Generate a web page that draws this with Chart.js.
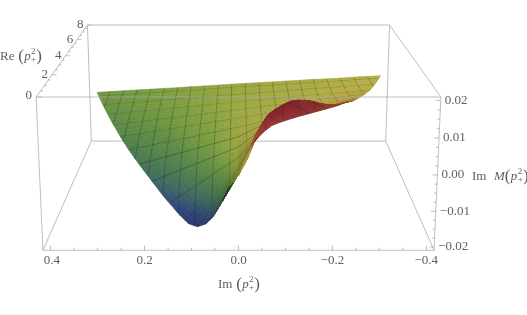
<!DOCTYPE html>
<html><head><meta charset="utf-8">
<style>html,body{margin:0;padding:0;background:#fff}canvas{display:block}</style>
<script src="https://cdn.jsdelivr.net/npm/chart.js@4"></script></head>
<body><canvas id="c" width="527" height="315"></canvas>
<script>
const imTicks=[0.4,0.2,0,-0.2,-0.4];
const imTickLabels=["0.4","0.2","0.0","\u22120.2","\u22120.4"];
const imMinor=[0.35,0.3,0.25,0.15,0.1,0.05,-0.05,-0.1,-0.15,-0.25,-0.3,-0.35];
const reTicks=[0,2,4,6,8];
const reTickLabels=["0","2","4","6","8"];
const reMinor=[0.5,1,1.5,2.5,3,3.5,4.5,5,5.5,6.5,7,7.5];
const zTicks=[0.02,0.01,0,-0.01,-0.02];
const zTickLabels=["0.02","0.01","0.00","\u22120.01","\u22120.02"];
const zMinor=[0.0175,0.015,0.0125,0.0075,0.005,0.0025,-0.0025,-0.005,-0.0075,-0.0125,-0.015,-0.0175];
const imMesh=[0.3591,0.3213,0.2835,0.2457,0.2079,0.1701,0.1323,0.0945,0.0567,0.0189,-0.0189,-0.0567,-0.0945,-0.1323,-0.1701,-0.2079,-0.2457,-0.2835,-0.3213,-0.3591];
const reMesh=[7.6,6.8,6,5.2,4.4,3.6,2.8,2,1.2,0.4];
// surface: Re rows; columns are the fraction of the allowed Im width at that Re (+1 left rim, -1 right rim)
const surfaceRe=[0,0.02,0.06,0.15,0.25,0.4,0.6,0.85,1.1,1.4,1.75,2.2,2.7,3.3,4,5,6,7,8];
const surfaceT=[1,0.75,0.5,0.25,0,-0.25,-0.5,-0.7,-0.85,-1];
const surfaceM=[
[0,0,0,0,0,0,0,0,0,0],
[-.0032,-.0024,-.0016,-.0008,0,.0012,.0024,.0033,.0040,.0046],
[-.0075,-.0056,-.0038,-.0019,0,.0023,.0046,.0065,.0078,.0092],
[-.0122,-.0092,-.0061,-.0031,0,.0038,.0076,.0107,.0115,.0113],
[-.0147,-.0110,-.0074,-.0037,0,.0046,.0091,.0128,.0130,.0125],
[-.0162,-.0122,-.0081,-.0041,0,.0053,.0106,.0148,.0134,.0129],
[-.0163,-.0122,-.0082,-.0041,0,.0055,.0111,.0155,.0140,.0130],
[-.0150,-.0112,-.0075,-.0037,0,.0056,.0112,.0157,.0143,.0129],
[-.0136,-.0102,-.0068,-.0034,0,.0056,.0112,.0157,.0143,.0126],
[-.0124,-.0093,-.0062,-.0031,0,.0055,.0109,.0153,.0141,.0122],
[-.0110,-.0083,-.0055,-.0028,0,.0051,.0103,.0144,.0142,.0116],
[-.0096,-.0072,-.0048,-.0024,0,.0046,.0092,.0129,.0123,.0108],
[-.0085,-.0064,-.0043,-.0021,0,.0040,.0080,.0112,.0101,.0098],
[-.0075,-.0056,-.0038,-.0019,0,.0022,.0044,.0062,.0075,.0088],
[-.0065,-.0049,-.0033,-.0016,0,.0018,.0035,.0049,.0060,.0070],
[-.0052,-.0039,-.0026,-.0013,0,.0014,.0027,.0038,.0046,.0054],
[-.0043,-.0032,-.0022,-.0011,0,.0010,.0020,.0027,.0033,.0039],
[-.0036,-.0027,-.0018,-.0009,0,.0008,.0017,.0023,.0028,.0033],
[-.0031,-.0023,-.0016,-.0008,0,.0007,.0015,.0020,.0025,.0029]
];
const colorZ=[-.0165,-.0135,-.0105,-.0075,-.0045,-.002,0,.003,.006,.008,.0105,.0155];
const colorRGB=[[40,55,115],[48,70,122],[60,100,100],[72,122,80],[95,140,68],[125,160,65],[160,172,66],[188,180,72],[200,172,66],[192,118,58],[168,64,56],[140,40,52]];

const IM_EDGE=0.4167, Z_EDGE=0.0209, RE_MAX=8, RIM=0.14;
function project(im,re,z){
  const v=re/RE_MAX,w=(z+Z_EDGE)/(2*Z_EDGE);
  const D=1+0.035*(1-w)+0.34*v;
  return {x:238.5-(im/IM_EDGE)*202.4/D,y:(259-65*v-162*w+1.5*v*w)/D};
}
const seg=(a,b)=>[project(a[0],a[1],a[2]),project(b[0],b[1],b[2])];
const I=IM_EDGE,Z=Z_EDGE,R=RE_MAX;
const backEdges=[
 seg([I,R,Z],[-I,R,Z]),seg([I,R,-Z],[-I,R,-Z]),seg([I,R,Z],[I,R,-Z]),seg([-I,R,Z],[-I,R,-Z]),
 seg([I,0,-Z],[I,R,-Z]),seg([-I,0,-Z],[-I,R,-Z]),seg([I,0,Z],[I,R,Z]),seg([-I,0,Z],[-I,R,Z])];
const frontEdges=[
 seg([I,0,Z],[-I,0,Z]),seg([I,0,-Z],[-I,0,-Z]),seg([I,0,Z],[I,0,-Z]),seg([-I,0,Z],[-I,0,-Z])];
const tickSegs=[];
imTicks.forEach(t=>tickSegs.push(seg([t,0,-Z],[t,0,-Z+0.0013])));
imMinor.forEach(t=>tickSegs.push(seg([t,0,-Z],[t,0,-Z+0.0007])));
zTicks.forEach(t=>tickSegs.push(seg([-I,0,t],[-I+0.0105,0,t])));
zMinor.forEach(t=>tickSegs.push(seg([-I,0,t],[-I+0.0055,0,t])));
reTicks.forEach(t=>tickSegs.push(seg([I,t,Z],[I-0.0105,t,Z])));
reMinor.forEach(t=>tickSegs.push(seg([I,t,Z],[I-0.0055,t,Z])));

const S=surfaceRe.map(r=>Math.sqrt(r));
function zAt(s,t){
  let i=0;while(i<S.length-2&&s>S[i+1])i++;
  let j=0;while(j<surfaceT.length-2&&t<surfaceT[j+1])j++;
  const a=(s-S[i])/(S[i+1]-S[i]),b=(surfaceT[j]-t)/(surfaceT[j]-surfaceT[j+1]);
  return (1-a)*((1-b)*surfaceM[i][j]+b*surfaceM[i][j+1])+a*((1-b)*surfaceM[i+1][j]+b*surfaceM[i+1][j+1]);
}
function colorOf(z,b){
  let k=0;while(k<colorZ.length-2&&z>colorZ[k+1])k++;
  const f=Math.max(0,Math.min(1,(z-colorZ[k])/(colorZ[k+1]-colorZ[k])));
  const c=[0,1,2].map(n=>Math.round((colorRGB[k][n]*(1-f)+colorRGB[k+1][n]*f)*b));
  return `rgb(${c[0]},${c[1]},${c[2]})`;
}
function shade(P){
  const N=p=>[-p[0]/(2*IM_EDGE),p[1]/RE_MAX,p[2]/(2*Z_EDGE)*0.4];
  const A=N(P[0]),B=N(P[1]),C=N(P[2]),E=N(P[3]);
  const u=[C[0]-A[0],C[1]-A[1],C[2]-A[2]],v=[E[0]-B[0],E[1]-B[1],E[2]-B[2]];
  let n=[u[1]*v[2]-u[2]*v[1],u[2]*v[0]-u[0]*v[2],u[0]*v[1]-u[1]*v[0]];
  const l=Math.hypot(n[0],n[1],n[2])||1;n=n.map(q=>q/l);
  if(n[2]<0)n=n.map(q=>-q);
  const d=-0.1*n[0]-0.5*n[1]+0.85*n[2];
  return Math.min(1,0.46+0.6*Math.max(0,d));
}
const surfacePlugin={id:'surface',afterDatasetDraw(chart,args){
  if(args.index!==backEdges.length-1)return;
  const ctx=chart.ctx,xs=chart.scales.x,ys=chart.scales.y;
  const px=(im,re,z)=>{const p=project(im,re,z);return [xs.getPixelForValue(p.x),ys.getPixelForValue(p.y)];};
  const pt=(s,t)=>[t*RIM*s,s*s,zAt(s,t)];
  ctx.save();ctx.lineJoin='round';
  const subS=5,subT=4;
  for(let i=S.length-2;i>=0;i--){
    for(let q=subS;q>0;q--){
      const s2=S[i]+(S[i+1]-S[i])*q/subS,s1=S[i]+(S[i+1]-S[i])*(q-1)/subS;
      for(let j=0;j<surfaceT.length-1;j++){
        for(let m=0;m<subT;m++){
          const t1=surfaceT[j]+(surfaceT[j+1]-surfaceT[j])*m/subT,t2=surfaceT[j]+(surfaceT[j+1]-surfaceT[j])*(m+1)/subT;
          const P=[pt(s2,t1),pt(s2,t2),pt(s1,t2),pt(s1,t1)];
          const zc=(P[0][2]+P[1][2]+P[2][2]+P[3][2])/4;
          const col=colorOf(zc,shade(P));
          ctx.beginPath();
          P.forEach((c,n)=>{const a=px(c[0],c[1],c[2]);n?ctx.lineTo(a[0],a[1]):ctx.moveTo(a[0],a[1]);});
          ctx.closePath();ctx.fillStyle=col;ctx.strokeStyle=col;ctx.lineWidth=0.6;ctx.fill();ctx.stroke();
        }
      }
      ctx.strokeStyle='rgba(28,32,20,0.42)';ctx.lineWidth=0.8;
      imMesh.forEach(im=>{
        const lo=Math.abs(im)/RIM;
        if(s2<=lo)return;
        const a=Math.max(s1,lo);
        ctx.beginPath();
        const n0=px(im,a*a,zAt(a,im/(RIM*a))),n1=px(im,s2*s2,zAt(s2,im/(RIM*s2)));
        ctx.moveTo(n0[0],n0[1]);ctx.lineTo(n1[0],n1[1]);ctx.stroke();
      });
      reMesh.forEach(re=>{
        const s=Math.sqrt(re);
        if(s>=s1&&s<s2){
          ctx.beginPath();
          for(let k=0;k<=60;k++){
            const t=1-k/30,a=px(t*RIM*s,re,zAt(s,t));
            k?ctx.lineTo(a[0],a[1]):ctx.moveTo(a[0],a[1]);
          }
          ctx.stroke();
        }
      });
      if(s2>0.3&&s1<2.0){
        ctx.strokeStyle='rgba(84,60,36,0.65)';ctx.lineWidth=0.9;ctx.beginPath();
        const n0=px(-RIM*s1,s1*s1,zAt(s1,-1)),n1=px(-RIM*s2,s2*s2,zAt(s2,-1));
        ctx.moveTo(n0[0],n0[1]);ctx.lineTo(n1[0],n1[1]);ctx.stroke();
      }
    }
  }
  ctx.restore();
}};
const SERIF='"Liberation Serif","Times New Roman",serif';
const INK='#5f5f5f';
function drawRuns(ctx,runs,x,y){
  runs.forEach(r=>{
    ctx.font=(r.i?'italic ':'')+r.f+'px '+SERIF;
    ctx.fillText(r.s,x,y+(r.d||0));
    if(!r.stay)x+=ctx.measureText(r.s).width+(r.g||0);
  });
  return x;
}
const pTerm=[{s:'(',f:17,d:0,g:0.3},{s:'p',f:13,i:1,g:0.4},{s:'2',f:9,d:-5,stay:1},{s:'+',f:9,d:3,g:0.2},{s:')',f:17,d:0}];
const labelPlugin={id:'labels',afterDraw(chart){
  const ctx=chart.ctx;ctx.save();ctx.fillStyle=INK;ctx.textBaseline='middle';ctx.font='13px '+SERIF;
  ctx.textAlign='center';
  imTicks.forEach((t,n)=>{const p=project(t,0,-Z);ctx.fillText(imTickLabels[n],p.x+(n===0?1:0),261);});
  ctx.textAlign='right';
  reTicks.forEach((t,n)=>{const p=project(I,t,Z);ctx.fillText(reTickLabels[n],p.x-4,p.y+(n===0?-1:0));});
  ctx.textAlign='left';
  zTicks.forEach((t,n)=>{const p=project(-I,0,t);ctx.fillText(zTickLabels[n],p.x+4,p.y);});
  drawRuns(ctx,[{s:'Im ',f:13,g:0.5}].concat(pTerm),218,285);
  drawRuns(ctx,[{s:'Re ',f:13,g:0.5}].concat(pTerm),0,57);
  drawRuns(ctx,[{s:'Im',f:13,g:7.5},{s:'M',f:13,i:1,g:0}].concat(pTerm),472,177);
  ctx.restore();
}};
const line=(data,order,color,w)=>({data,order,showLine:true,pointRadius:0,borderColor:color,borderWidth:w});
let ord=1000;
const datasets=[];
backEdges.forEach(d=>datasets.push(line(d,ord--,'#bdbdbd',1)));
frontEdges.forEach(d=>datasets.push(line(d,ord--,'rgba(165,165,165,0.7)',1)));
tickSegs.forEach(d=>datasets.push(line(d,ord--,'#b5b5b5',0.9)));
new Chart(document.getElementById('c'),{type:'scatter',
 data:{datasets},
 plugins:[surfacePlugin,labelPlugin],
 options:{responsive:false,animation:false,layout:{padding:0},events:[],
  plugins:{legend:{display:false},tooltip:{enabled:false}},
  scales:{x:{type:'linear',min:0,max:527,display:false},y:{type:'linear',min:0,max:315,reverse:true,display:false}}}});
</script></body></html>
